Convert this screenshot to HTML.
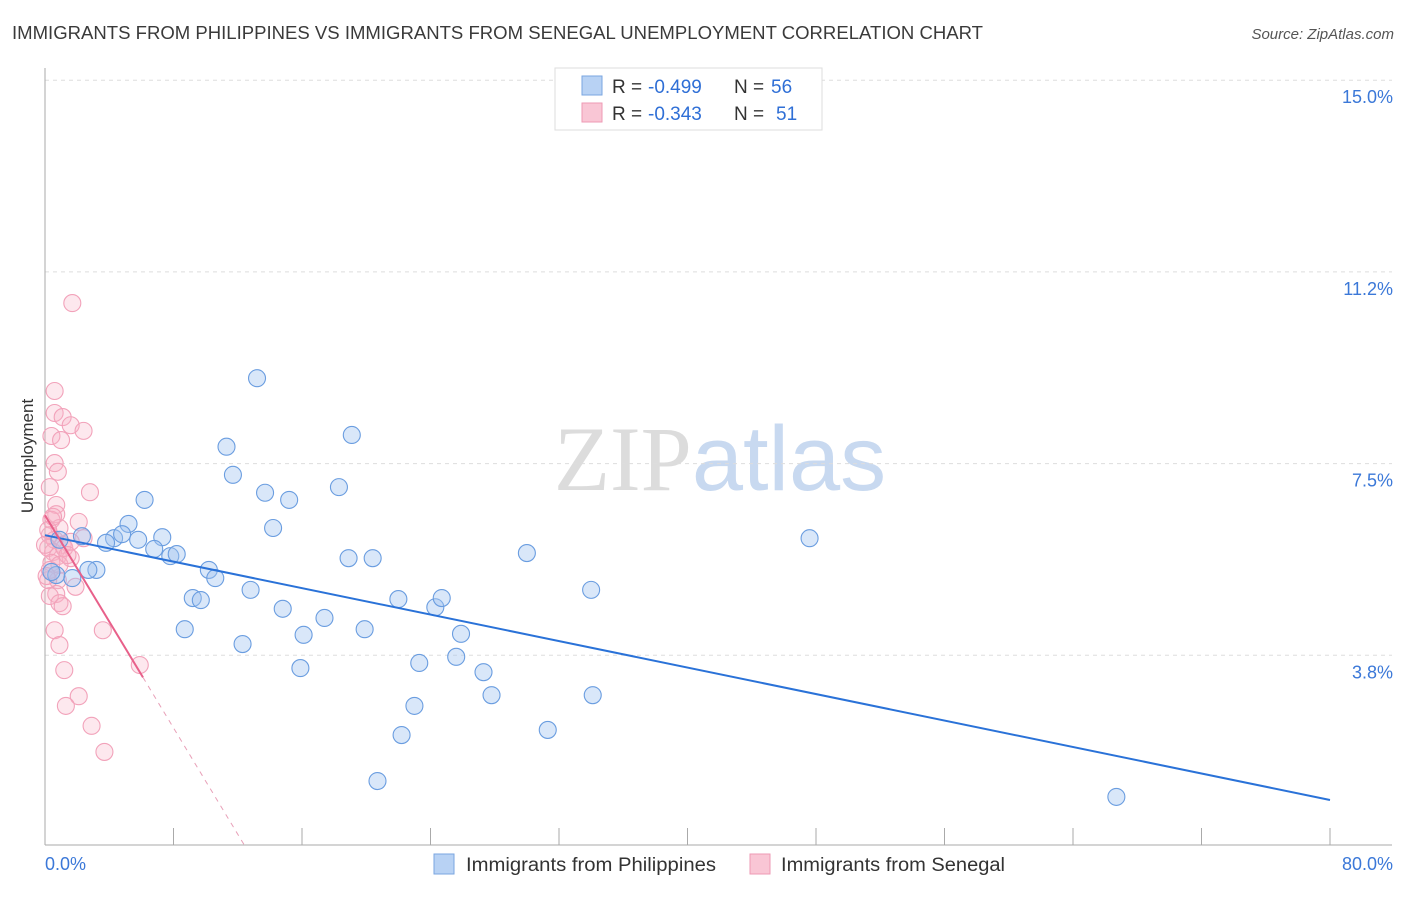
<!DOCTYPE html>
<html><head><meta charset="utf-8"><style>
body{margin:0;background:#fff;font-family:"Liberation Sans",sans-serif;}
svg text{font-family:"Liberation Sans",sans-serif;}
</style></head><body>
<svg id="chart" width="1406" height="892" viewBox="0 0 1406 892" xmlns="http://www.w3.org/2000/svg">
<text x="12" y="39" font-size="18" fill="#3a3a3a" textLength="971" lengthAdjust="spacingAndGlyphs">IMMIGRANTS FROM PHILIPPINES VS IMMIGRANTS FROM SENEGAL UNEMPLOYMENT CORRELATION CHART</text>
<text x="1394" y="39" font-size="15" fill="#555" text-anchor="end" font-style="italic">Source: ZipAtlas.com</text>
<text x="720" y="490" font-size="92" text-anchor="middle"><tspan fill="#dcdcdc" font-family="Liberation Serif">ZIP</tspan><tspan fill="#c8d9f0">atlas</tspan></text>
<g id="grid"></g>
<g id="axes"></g>
<g id="marks"></g>
<text transform="translate(33,456) rotate(-90)" font-size="17" fill="#333" text-anchor="middle">Unemployment</text>
<g>
<rect x="555" y="68" width="267" height="62" fill="#fff" stroke="#ddd"/>
<rect x="582" y="76" width="20" height="19" fill="#b8d2f4" stroke="#7aa6e0"/>
<rect x="582" y="103" width="20" height="19" fill="#f9c6d5" stroke="#ee9ab4"/>
<text x="612" y="93" font-size="19" fill="#333">R =</text>
<text x="648" y="93" font-size="19" fill="#2f6fd6">-0.499</text>
<text x="734" y="93" font-size="19" fill="#333">N =</text>
<text x="771" y="93" font-size="19" fill="#2f6fd6">56</text>
<text x="612" y="120" font-size="19" fill="#333">R =</text>
<text x="648" y="120" font-size="19" fill="#2f6fd6">-0.343</text>
<text x="734" y="120" font-size="19" fill="#333">N =</text>
<text x="776" y="120" font-size="19" fill="#2f6fd6">51</text>
</g>
<g>
<rect x="434" y="854" width="20" height="20" fill="#b8d2f4" stroke="#7aa6e0"/>
<text x="466" y="871" font-size="19" fill="#333" textLength="250" lengthAdjust="spacingAndGlyphs">Immigrants from Philippines</text>
<rect x="750" y="854" width="20" height="20" fill="#f9c6d5" stroke="#ee9ab4"/>
<text x="781" y="871" font-size="19" fill="#333" textLength="224" lengthAdjust="spacingAndGlyphs">Immigrants from Senegal</text>
</g>
</svg>
<script>
const yTicks=[3.75,7.5,11.25,15];
const yTickLabels=["3.8%","7.5%","11.2%","15.0%"];
const xTickLabels=["0.0%","80.0%"];
const blueX=[13.2,19.1,11.3,11.7,13.7,15.2,18.3,6.2,14.2,5.2,4.3,4.8,3.8,5.8,7.3,6.8,7.8,8.2,10.2,10.6,12.8,14.8,9.2,9.7,8.7,12.3,16.1,15.9,18.9,20.4,17.4,19.9,22.0,24.3,24.7,25.9,23.3,25.6,27.3,27.8,23.0,22.2,20.7,31.3,30.0,34.0,34.1,47.6,66.7,2.3,3.2,2.7,1.7,0.7,0.4,0.9];
const blueY=[9.17,8.06,7.83,7.28,6.93,6.79,7.04,6.79,6.24,6.32,6.04,6.12,5.95,6.01,6.06,5.83,5.69,5.73,5.42,5.26,5.03,4.66,4.87,4.83,4.26,3.97,4.15,3.50,5.65,5.65,4.48,4.26,4.85,4.69,4.87,4.17,3.60,3.72,3.42,2.97,2.76,2.19,1.29,2.29,5.75,5.03,2.97,6.04,0.98,6.08,5.42,5.42,5.26,5.32,5.38,6.01];
const pinkX=[1.7,0.6,0.6,1.1,1.6,2.4,0.4,1.0,0.6,0.8,0.3,2.8,0.7,0.7,2.1,0.4,0.9,0.3,0.6,1.1,0.2,0.5,0.8,2.4,1.6,0.4,0.8,1.9,0.7,0.3,0.9,1.1,0.6,3.6,0.9,5.9,1.2,2.1,1.3,2.9,3.7,0.2,0.0,1.2,0.3,0.9,0.2,1.6,0.5,1.4,0.1];
const pinkY=[10.64,8.92,8.49,8.41,8.25,8.14,8.04,7.96,7.51,7.34,7.04,6.94,6.69,6.51,6.36,6.40,6.24,6.10,6.01,5.91,5.85,5.77,5.69,6.04,5.65,5.56,5.22,5.09,4.95,4.91,4.77,4.71,4.24,4.24,3.95,3.56,3.46,2.95,2.76,2.37,1.86,6.20,5.91,5.85,5.42,5.52,5.22,5.97,6.46,5.71,5.30];
const blueTrend=[6.10,0.92];
const pinkTrend=[6.49,-0.52];
const NS="http://www.w3.org/2000/svg";
const X=v=>45+v*1285/80, Y=v=>847-v*51.12;
function mk(tag,attrs,parent){const e=document.createElementNS(NS,tag);for(const k in attrs)e.setAttribute(k,attrs[k]);parent.appendChild(e);return e;}
const grid=document.getElementById('grid'),axes=document.getElementById('axes'),marks=document.getElementById('marks');
yTicks.forEach((t,i)=>{
 const l=mk('line',{x1:45,x2:1392,y1:Y(t),y2:Y(t),stroke:'#ddd','stroke-dasharray':'4,4'},grid);
 
 
 const tx=mk('text',{x:1393,y:Y(t)+23,'font-size':18,fill:'#3b78d8','text-anchor':'end'},axes);
 tx.textContent=yTickLabels[i];
 
 
});
const ya=mk('line',{x1:45,x2:45,y1:68,y2:845,stroke:'#aaa'},axes);


const xa=mk('line',{x1:45,x2:1392,y1:845,y2:845,stroke:'#aaa'},axes);


for(let i=0;i<=10;i++){const t=mk('line',{x1:X(i*8),x2:X(i*8),y1:828,y2:845,stroke:'#aaa'},axes);
 
 }
const xl0=mk('text',{x:45,y:870,'font-size':18,fill:'#3b78d8'},axes);xl0.textContent=xTickLabels[0];


const xl1=mk('text',{x:1393,y:870,'font-size':18,fill:'#3b78d8','text-anchor':'end'},axes);xl1.textContent=xTickLabels[1];


pinkX.forEach((x,i)=>{const c=mk('circle',{cx:X(x),cy:Y(pinkY[i]),r:8.5,fill:'rgba(248,180,200,0.3)',stroke:'#f2a2ba','stroke-width':1.1},marks);
 
 });
blueX.forEach((x,i)=>{const c=mk('circle',{cx:X(x),cy:Y(blueY[i]),r:8.5,fill:'rgba(160,196,240,0.4)',stroke:'#6a9de0','stroke-width':1.1},marks);
 
 });
const bt=mk('line',{x1:X(0),y1:Y(blueTrend[0]),x2:X(80),y2:Y(blueTrend[1]),stroke:'#2a72d8','stroke-width':2},marks);


const pe=6.1, pz=-pinkTrend[0]/pinkTrend[1];
const ps=mk('line',{x1:X(0),y1:Y(pinkTrend[0]),x2:X(pe),y2:Y(pinkTrend[0]+pinkTrend[1]*pe),stroke:'#e8608a','stroke-width':2},marks);


const pd=mk('line',{x1:X(pe),y1:Y(pinkTrend[0]+pinkTrend[1]*pe),x2:X(pz),y2:Y(0),stroke:'#e8a0b8','stroke-width':1,'stroke-dasharray':'5,5'},marks);


</script>
</body></html>
